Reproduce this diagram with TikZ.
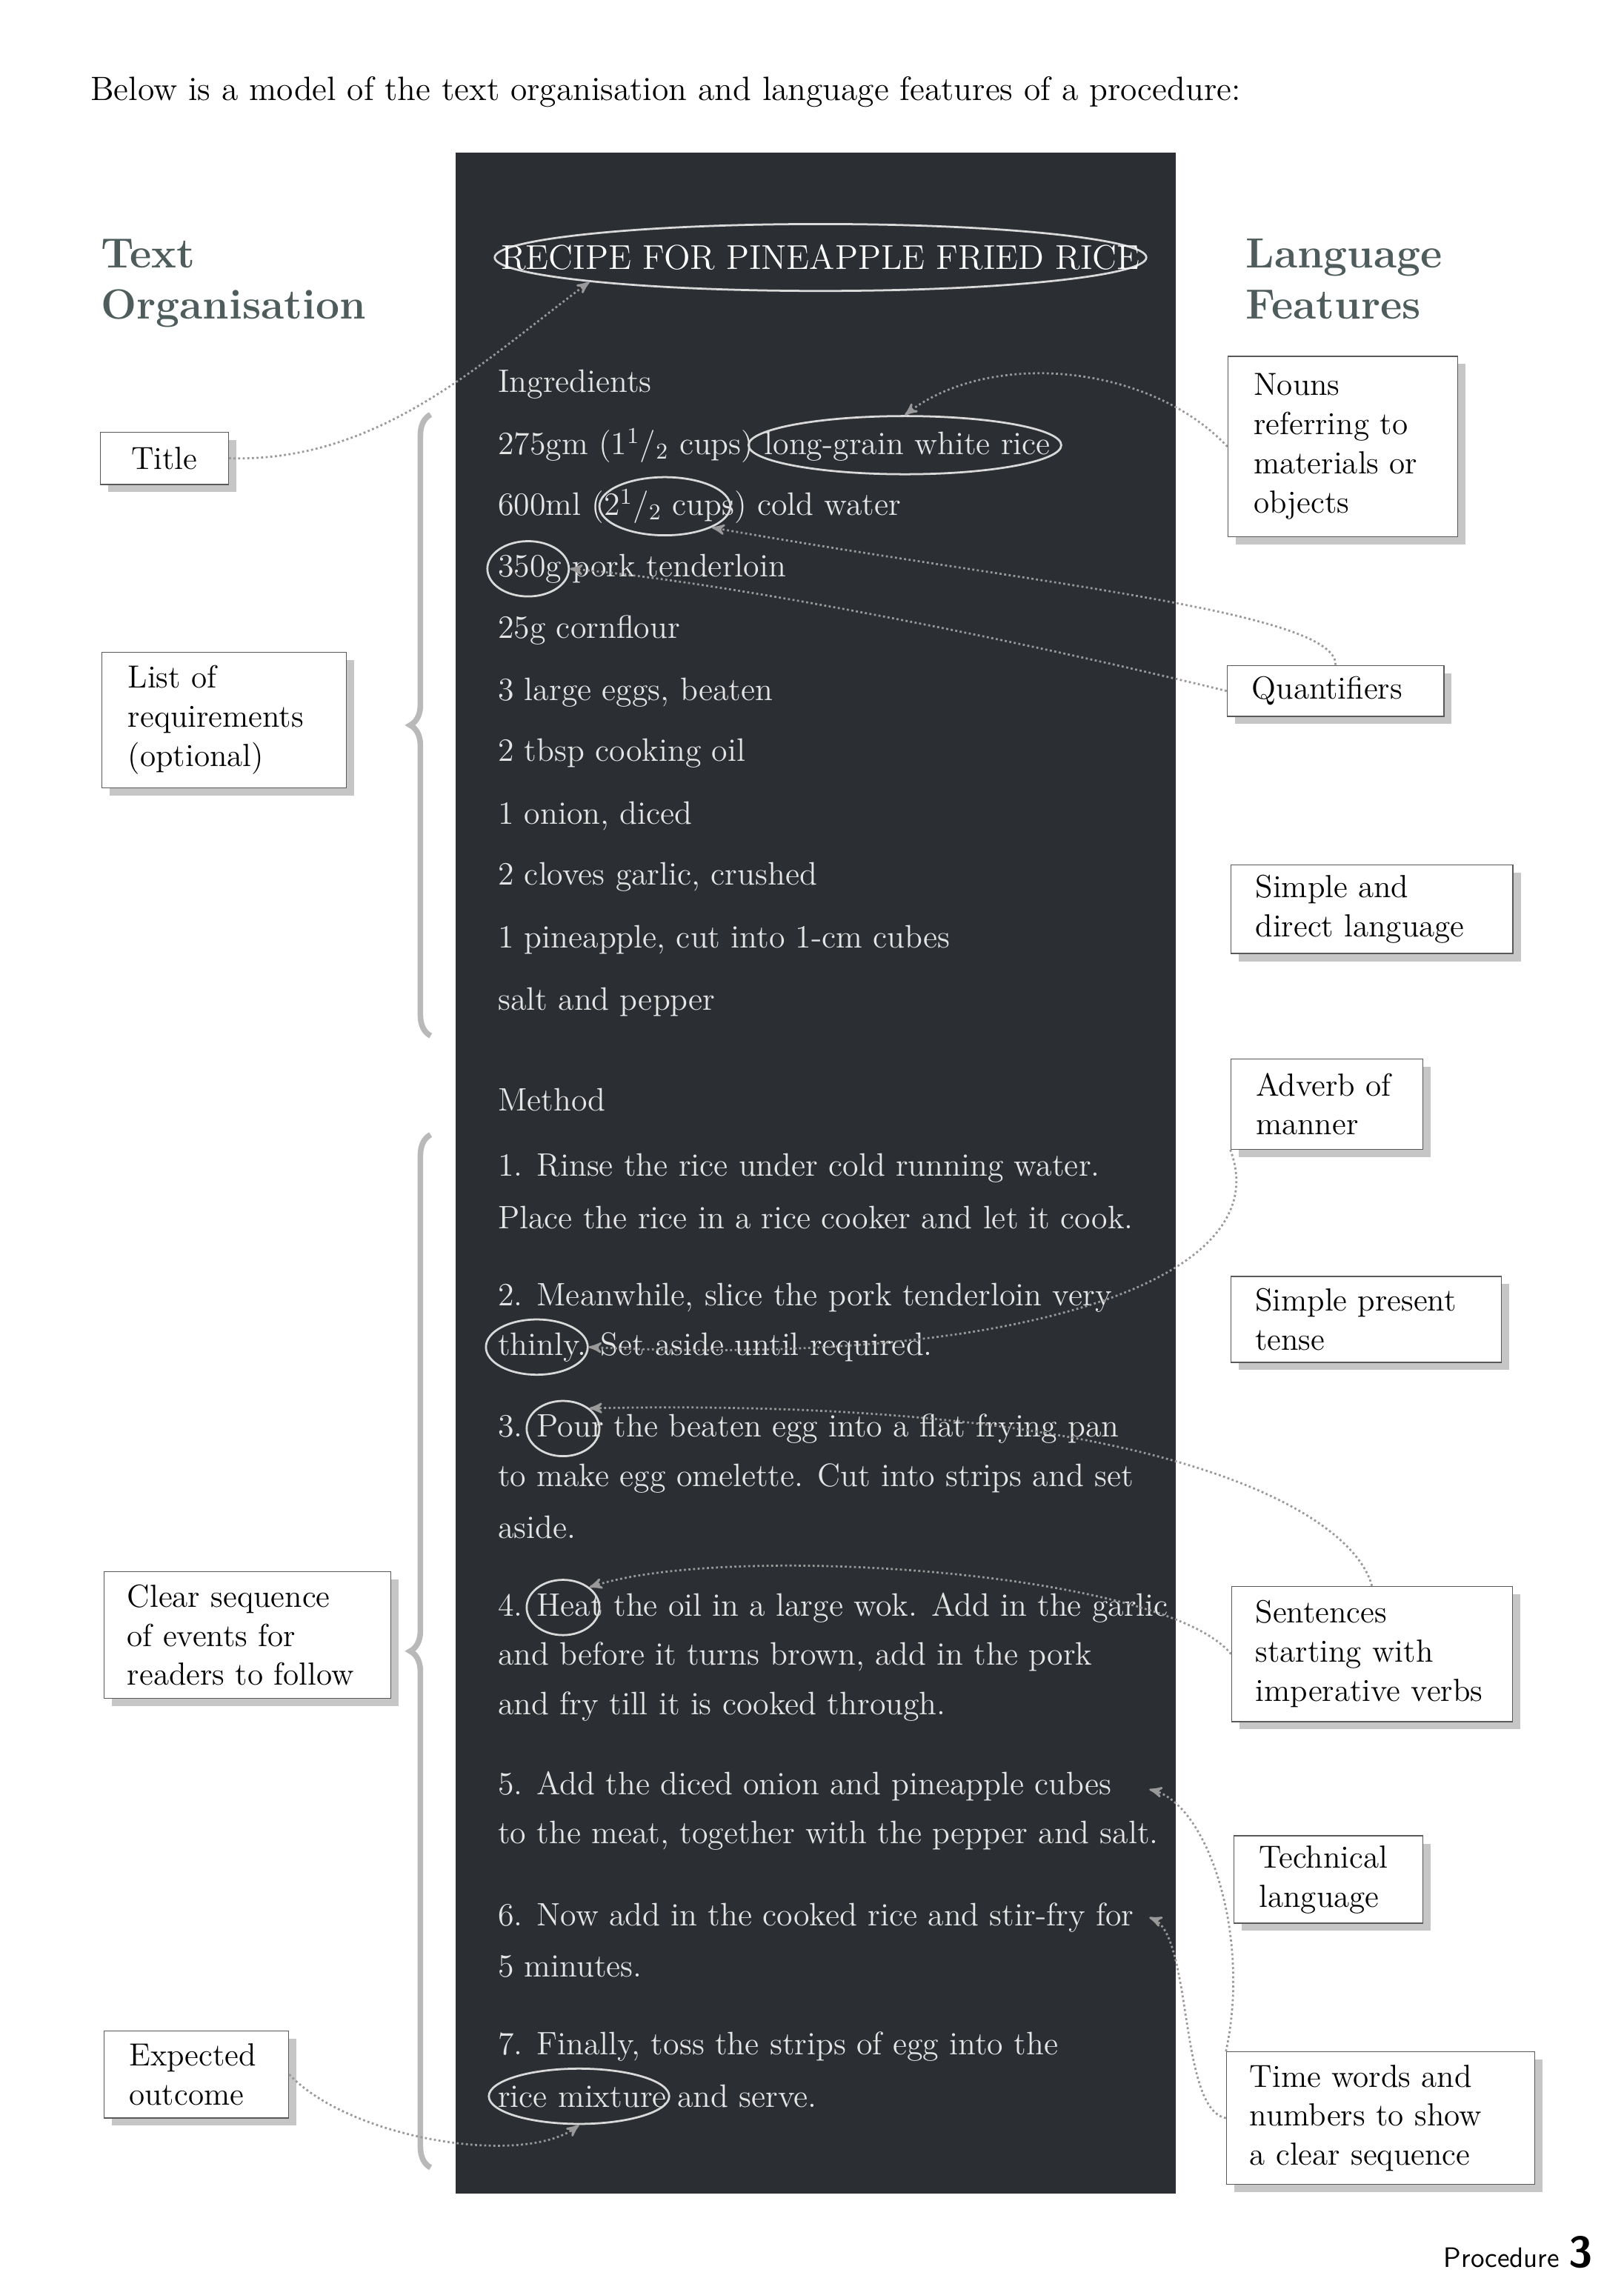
\documentclass[tikz,border=0pt]{standalone}
\usepackage{tikz}
\usetikzlibrary{shapes.geometric, arrows, shadows, decorations.pathreplacing}
\definecolor{board}{HTML}{2B2E33}
\definecolor{headcol}{HTML}{4E5C5C}
\begin{document}
\begin{tikzpicture}[x=0.02cm,y=-0.02cm,>=stealth',
  featbox/.style={draw=gray!70!black,fill=white,align=left,inner sep=0pt,
    font=\fontsize{12.5}{15.3}\selectfont,
    drop shadow={shadow xshift=3pt,shadow yshift=-3pt,fill=gray!45,opacity=1}},
  ring/.style={ellipse,draw=white!85!black,thick,inner sep=0pt},
  line/.style={font=\fontsize{12.7}{15}\selectfont,text=white!90!black,anchor=west,inner sep=0pt},
  link/.style={densely dotted,gray!80,thick,->}]
\tikzstyle{heading} = [font=\fontsize{16.5}{20}\selectfont\bfseries, text=headcol, align=left, anchor=north west, inner sep=0pt]

\useasboundingbox (0,0) rectangle (1116,1568);
\node[anchor=west,inner sep=0pt,font=\fontsize{13.2}{15}\selectfont] (intro) at (62,63) {Below is a model of the text organisation and language features of a procedure:};
\fill[board] (313,105) rectangle (808,1508);
\node[heading] (texthead) at (69,164) {Text\\Organisation};
\node[heading] (langhead) at (856,164) {Language\\Features};

% panel text
\node[ring,minimum width=8.96cm,minimum height=0.92cm] (title) at (564,177) {};
\node[font=\fontsize{13.5}{15}\selectfont,text=white,inner sep=0pt] (titletext) at (title.center) {RECIPE FOR PINEAPPLE FRIED RICE};
\foreach \y/\t in {264/Ingredients, 306/{275gm (1\textsuperscript{1}/\textsubscript{2} cups) long-grain white rice},
  348/{600ml (2\textsuperscript{1}/\textsubscript{2} cups) cold water}, 391/{350g pork tenderloin}, 433/25g cornflour,
  476/{3 large eggs, beaten}, 518/2 tbsp cooking oil, 561/{1 onion, diced}, 603/{2 cloves garlic, crushed},
  646/{1 pineapple, cut into 1-cm cubes}, 689/salt and pepper, 756/Method,
  803/{1. Rinse the rice under cold running water.}, 837/{Place the rice in a rice cooker and let it cook.},
  892/{2. Meanwhile, slice the pork tenderloin very}, 926/{thinly. Set aside until required.},
  982/{3. Pour the beaten egg into a flat frying pan}, 1016/{to make egg omelette. Cut into strips and set}, 1050/aside.,
  1105/{4. Heat the oil in a large wok. Add in the garlic}, 1139/{and before it turns brown, add in the pork},
  1173/{and fry till it is cooked through.},
  1228/{5. Add the diced onion and pineapple cubes}, 1262/{to the meat, together with the pepper and salt.},
  1318/{6. Now add in the cooked rice and stir-fry for}, 1352/5 minutes.,
  1407/{7. Finally, toss the strips of egg into the}, 1441/{rice mixture and serve.}}
  \node[line] at (342,\y) {\t};

% circled words
\node[ring,minimum width=4.3cm,minimum height=0.8cm] (rice) at (622,306) {};
\node[ring,minimum width=1.8cm,minimum height=0.8cm] (cups) at (457,348) {};
\node[ring,minimum width=1.12cm,minimum height=0.76cm] (gram) at (363,391) {};
\node[ring,minimum width=1.4cm,minimum height=0.76cm] (thinly) at (369,926) {};
\node[ring,minimum width=1.0cm,minimum height=0.76cm] (pour) at (387,982) {};
\node[ring,minimum width=1.0cm,minimum height=0.76cm] (heat) at (387,1105) {};
\node[ring,minimum width=2.48cm,minimum height=0.76cm] (mixture) at (398,1441) {};

% left boxes
\node[featbox,minimum width=1.76cm,minimum height=0.72cm,align=center] (titlebox) at (113,315) {Title};
\node[featbox,minimum width=3.36cm,minimum height=1.86cm,text width=2.64cm] (reqbox) at (154,495) {List of\\requirements\\(optional)};
\node[featbox,minimum width=3.94cm,minimum height=1.74cm,text width=3.3cm] (seqbox) at (170,1124) {Clear sequence\\of events for\\readers to follow};
\node[featbox,minimum width=2.54cm,minimum height=1.2cm,text width=1.85cm] (outbox) at (135,1426) {Expected\\outcome};

% right boxes
\node[featbox,minimum width=3.16cm,minimum height=2.48cm,text width=2.45cm] (nounbox) at (923,307) {Nouns\\referring to\\materials or\\objects};
\node[featbox,minimum width=2.98cm,minimum height=0.7cm,text width=2.3cm] (quantbox) at (918,475) {Quantifiers};
\node[featbox,minimum width=3.88cm,minimum height=1.22cm,text width=3.2cm] (simplebox) at (943,625) {Simple and\\direct language};
\node[featbox,minimum width=2.64cm,minimum height=1.24cm,text width=1.95cm] (advbox) at (912,759) {Adverb of\\manner};
\node[featbox,minimum width=3.72cm,minimum height=1.18cm,text width=3.05cm] (tensebox) at (939,907) {Simple present\\tense};
\node[featbox,minimum width=3.86cm,minimum height=1.86cm,text width=3.2cm] (impbox) at (943,1137) {Sentences\\starting with\\imperative verbs};
\node[featbox,minimum width=2.6cm,minimum height=1.2cm,text width=1.9cm] (techbox) at (913,1292) {Technical\\language};
\node[featbox,minimum width=4.24cm,minimum height=1.82cm,text width=3.6cm] (timebox) at (949,1456) {Time words and\\numbers to show\\a clear sequence};

% braces
\draw[gray!55,line width=2.2pt,decorate,decoration={brace,amplitude=8pt}] (296,712) -- (296,285);
\draw[gray!55,line width=2.2pt,decorate,decoration={brace,amplitude=8pt}] (296,1490) -- (296,780);

% connectors
\coordinate (step5) at (790,1230);
\coordinate (step6) at (790,1318);
\draw[link] (titlebox.east) .. controls (260,318) and (330,250) .. (title.south west);
\draw[link] (nounbox.west) .. controls (790,250) and (680,240) .. (rice.north);
\draw[link] (quantbox.north) .. controls (920,420) and (700,400) .. (cups.south east);
\draw[link] (quantbox.west) .. controls (700,440) and (500,400) .. (gram.east);
\draw[link] (advbox.south west) .. controls (880,880) and (700,940) .. (thinly.east);
\draw[link] (impbox.north) .. controls (930,1040) and (800,960) .. (pour.north east);
\draw[link] (impbox.west) .. controls (800,1080) and (500,1060) .. (heat.north east);
\draw[link] (timebox.north west) .. controls (860,1330) and (830,1240) .. (step5);
\draw[link] (timebox.west) .. controls (810,1450) and (820,1330) .. (step6);
\draw[link] (outbox.east) .. controls (240,1470) and (360,1490) .. (mixture.south);

\node[anchor=east,inner sep=0pt,font=\sffamily\fontsize{11}{13}\selectfont] (footer) at (1095,1548) {Procedure \textbf{\fontsize{17}{20}\selectfont 3}};
\end{tikzpicture}
\end{document}
